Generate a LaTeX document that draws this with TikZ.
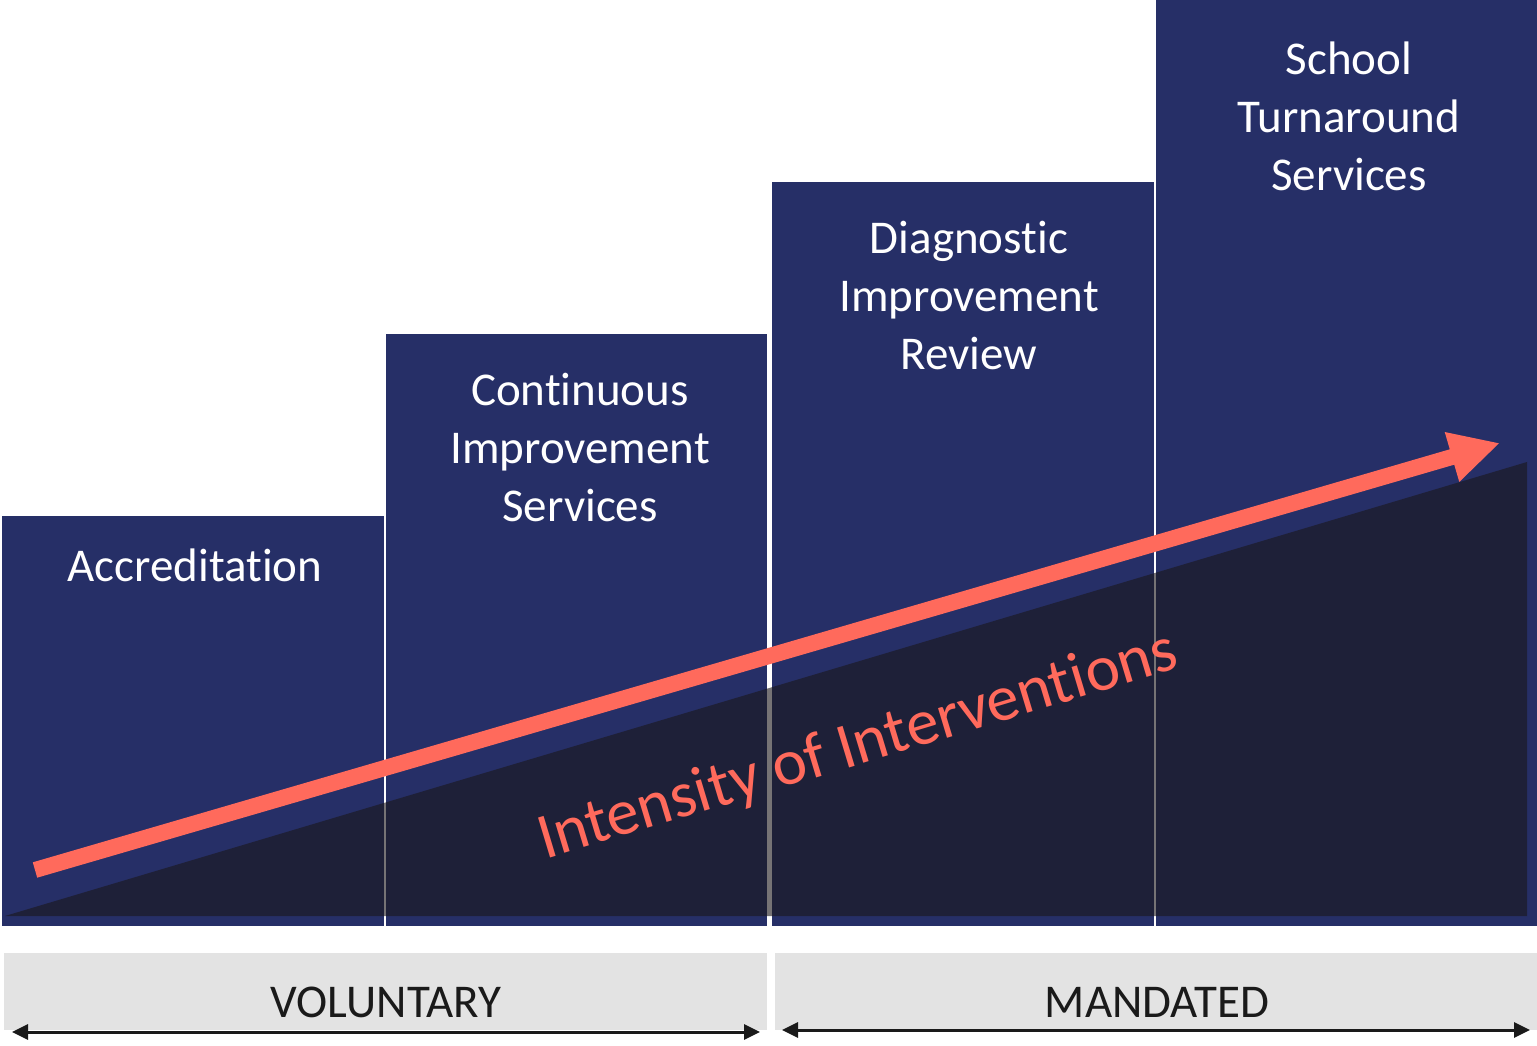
\documentclass[tikz,border=0pt]{standalone}
\usepackage{fontspec}
\setmainfont{Carlito}[RawFeature={-liga;-clig;-calt;-dlig}]
\usetikzlibrary{arrows.meta}
\definecolor{navy}{HTML}{262F67}
\definecolor{coral}{HTML}{FF6A5C}
\definecolor{bandgray}{HTML}{E3E3E3}
\definecolor{inkblack}{HTML}{1A1A1A}
\definecolor{wedgeink}{RGB}{26,22,25}
\tikzset{%
    span/.style={{Triangle[length=8pt,width=7.5pt]}-{Triangle[length=8pt,width=7.5pt]},line width=1.5pt,draw=inkblack}
}

\begin{document}
\begin{tikzpicture}[
        x=0.5pt, y=0.5pt,
        bar/.style={fill=navy},
        band/.style={fill=bandgray},
        lbl/.style={text=white,align=center,font=\fontsize{23.5}{29}\selectfont},
        side/.style={text=inkblack,font=\fontsize{23.5}{29}\selectfont},
        rise/.style={draw=coral,line width=8pt,-{Triangle[length=25pt,width=24pt]}}
        ]
        \useasboundingbox (0,0) rectangle (1537,1045);

        % steps
        \fill[bar] (2,119) rectangle (384,529);
        \fill[bar] (386,119) rectangle (767,711);
        \fill[bar] (772,119) rectangle (1154,863);
        \fill[bar] (1156,119) rectangle (1537,1045);

        \node[lbl] (acc) at (195,480) {Accreditation};
        \node[lbl] (cis) at (580,597) {Continuous\\Improvement\\Services};
        \node[lbl] (dir) at (969,750) {Diagnostic\\Improvement\\Review};
        \node[lbl] (sts) at (1349,929) {School\\Turnaround\\Services};

        % wedge
        \fill[wedgeink,fill opacity=0.6] (5,129) -- (1527,583) -- (1527,129) -- cycle;

        \coordinate (rs) at (35,175);
        \coordinate (re) at (1500,602);
        \draw[rise] (rs) -- (re);
        \node[rotate=16.8,text=coral,font=\fontsize{32.5}{36}\selectfont] (int) at (858,298) {Intensity of Interventions};

        % bottom bands
        \fill[band] (4,15) rectangle (767,92);
        \fill[band] (775,15) rectangle (1537,92);
        \node[side] (vol) at (386,43) {VOLUNTARY};
        \node[side] (man) at (1157,43) {MANDATED};

        \coordinate (v1) at (12,13);
        \coordinate (v2) at (760,13);
        \coordinate (m1) at (782,15);
        \coordinate (m2) at (1530,15);
        \draw[span] (v1) -- (v2);
        \draw[span] (m1) -- (m2);
    \end{tikzpicture}
\end{document}
